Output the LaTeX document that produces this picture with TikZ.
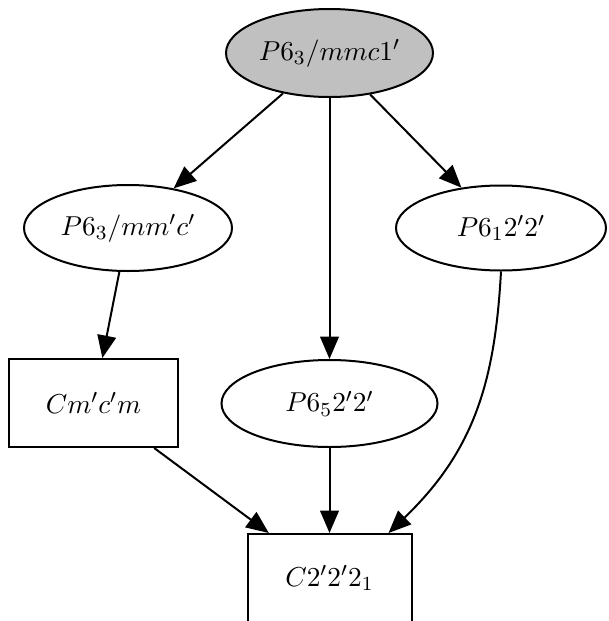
\documentclass[tikz,border=0pt]{standalone}
\usetikzlibrary{shapes.geometric,arrows.meta}
\begin{document}
\begin{tikzpicture}[x=0.4pt,y=-0.4pt,
  every node/.style={font=\fontsize{11}{13}\selectfont, inner sep=0pt, line width=0.8pt},
  ell/.style={draw, ellipse},
  box/.style={draw, rectangle},
  arr/.style={line width=0.8pt, -{Triangle[length=9pt,width=7.5pt]}}]
\useasboundingbox (0,0) rectangle (608,621);
\node[ell, fill={rgb,255:red,192;green,192;blue,192}, minimum width=82.8pt, minimum height=35.2pt] (top) at (329.5,53) {$P6_3/mmc1'$};
\node[ell, minimum width=83.2pt, minimum height=34.4pt] (A) at (128,228) {$P6_3/mm'c'$};
\node[ell, minimum width=84pt, minimum height=34pt] (B) at (501,228) {$P6_12'2'$};
\node[box, minimum width=67.6pt, minimum height=35.2pt] (Cm) at (93.5,403) {$Cm'c'm$};
\node[ell, minimum width=86.4pt, minimum height=34.8pt] (P) at (329.5,403.5) {$P6_52'2'$};
\node[box, minimum width=65.6pt, minimum height=35.2pt] (C) at (329.5,578) {$C2'2'2_1$};
\draw[arr] (top) -- (A);
\draw[arr] (top) -- (B);
\draw[arr] (top) -- (P);
\draw[arr] (A) -- (Cm);
\draw[arr] (Cm) -- (C);
\draw[arr] (P) -- (C);
\draw[arr] (B.south) .. controls (495,380) and (475,450) .. ([xshift=-9.6pt]C.north east);
\end{tikzpicture}
\end{document}
